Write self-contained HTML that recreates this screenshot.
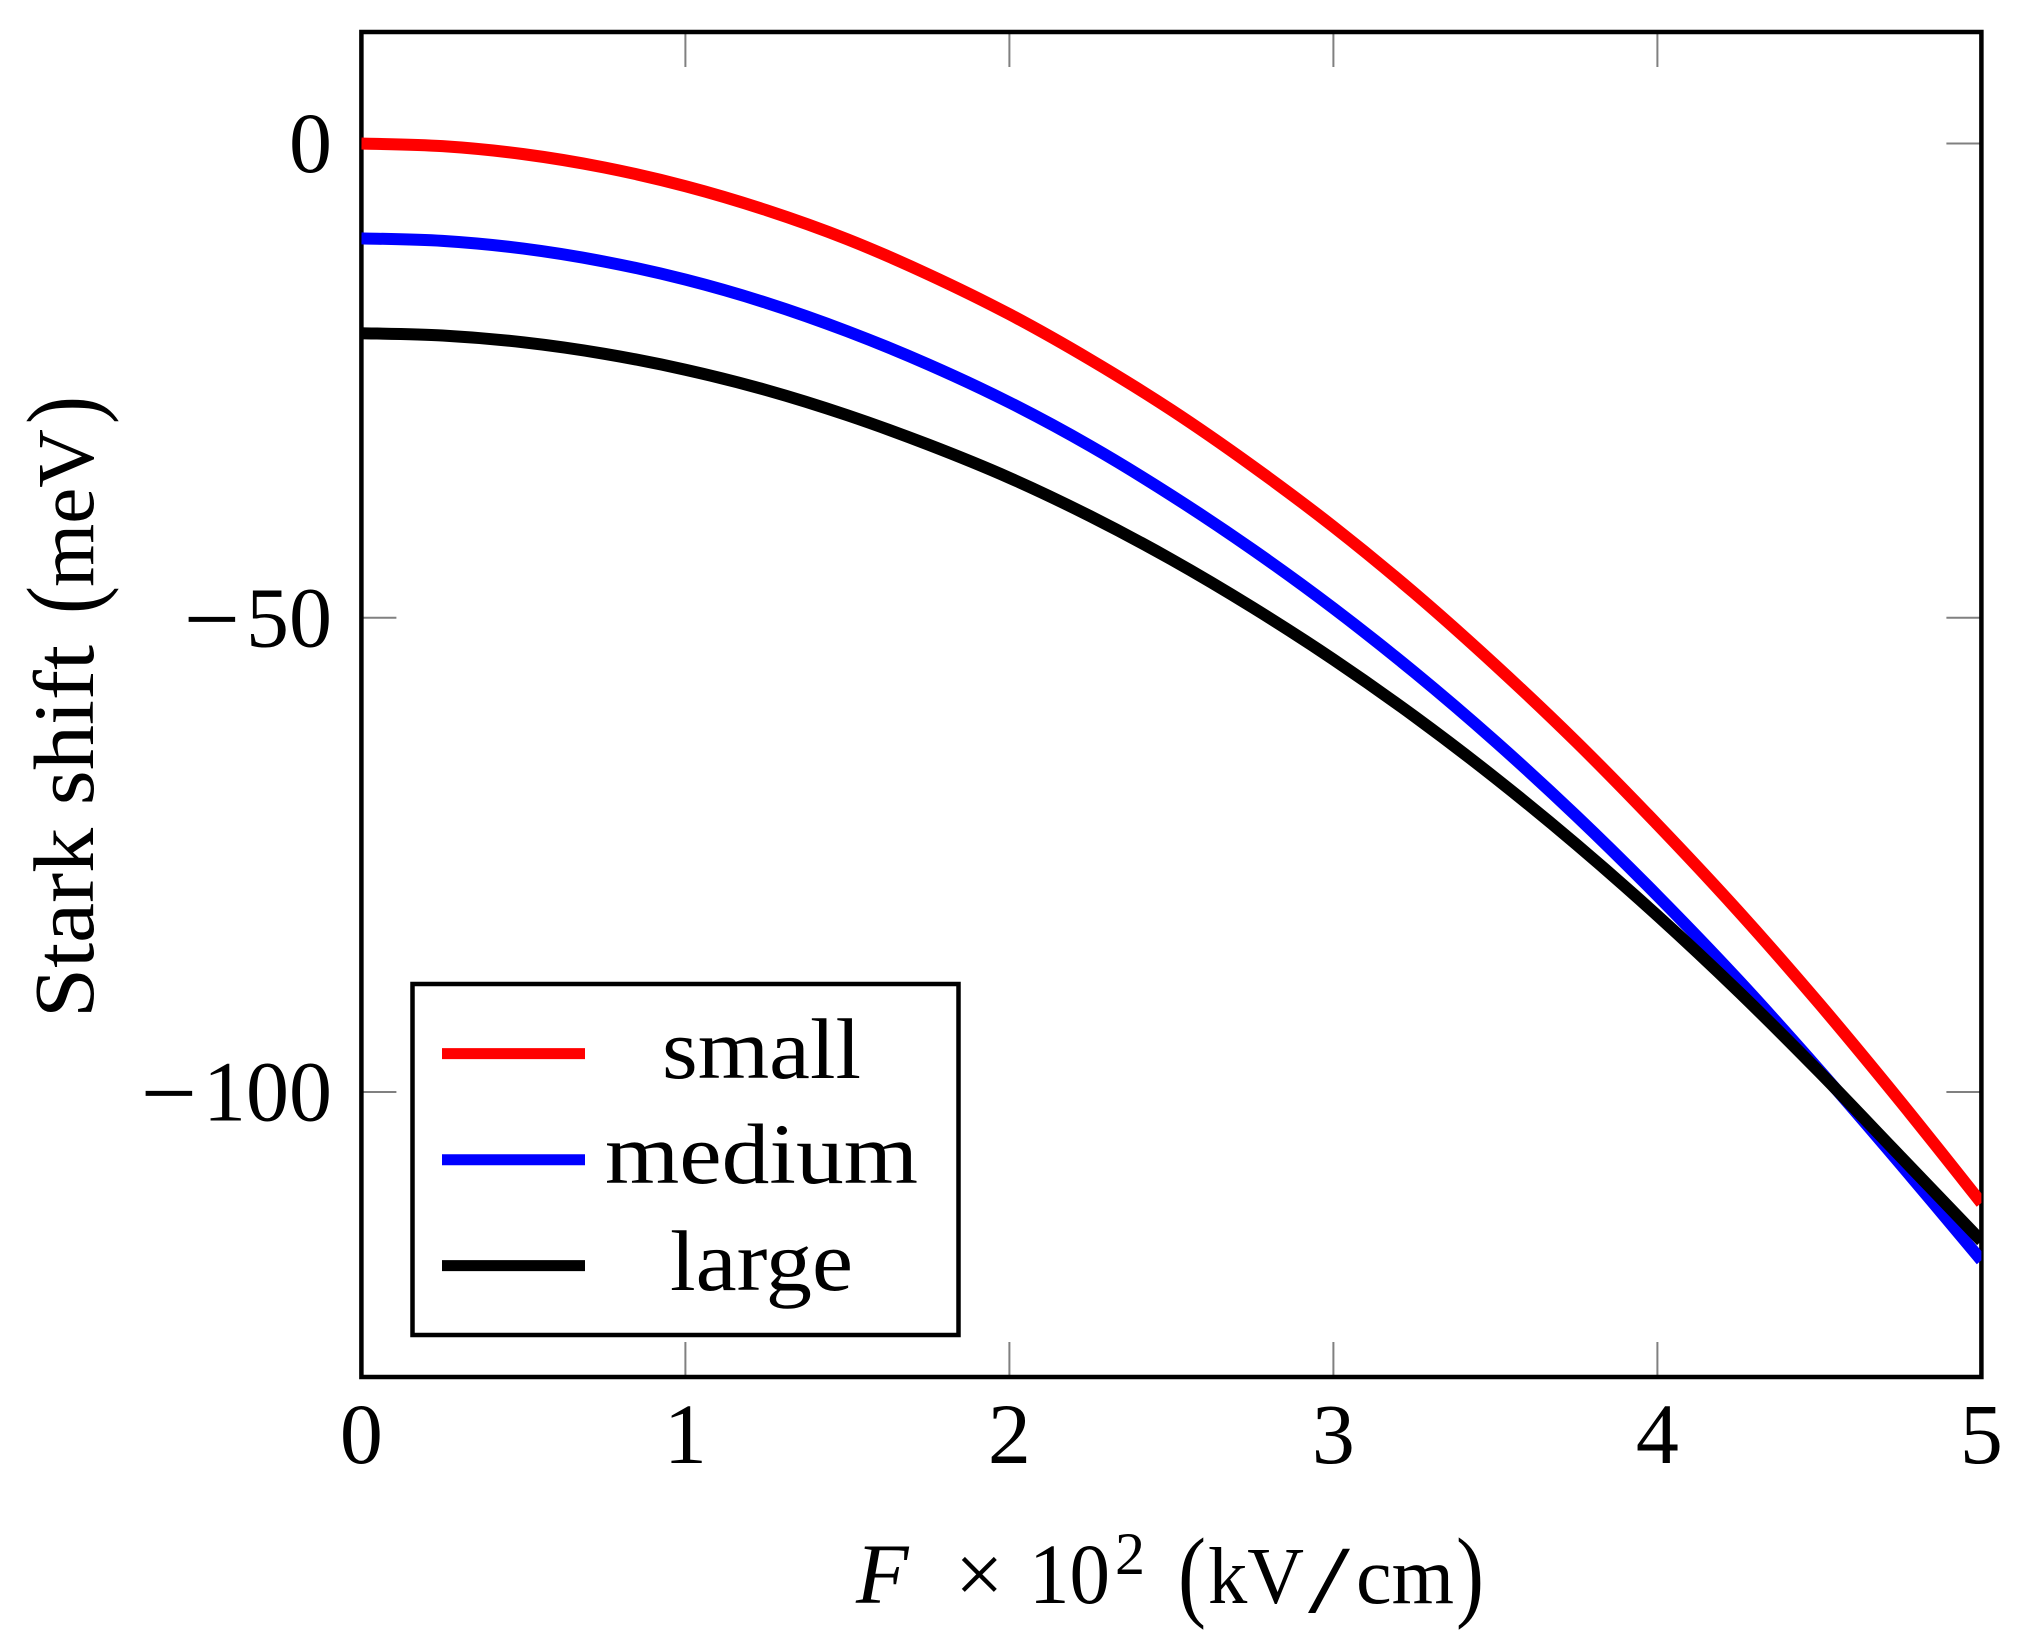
<!DOCTYPE html>
<html lang="en">
<head>
<meta charset="utf-8">
<title>Stark shift vs. field</title>
<style>
  html, body { margin: 0; padding: 0; background: #fff; }
  svg { display: block; }
  text { font-family: "Liberation Serif", "Noto Serif CJK SC", serif; fill: #000; }
</style>
</head>
<body>
<svg id="chart" xmlns="http://www.w3.org/2000/svg" width="2038" height="1649" viewBox="0 0 2038 1649">
  <defs>
    <clipPath id="plot-clip"><rect x="361.4" y="32" width="1620" height="1345"></rect></clipPath>
  </defs>
  <rect x="0" y="0" width="2038" height="1649" fill="#fff"></rect>
  <g id="ticks"></g>
  <rect x="361.4" y="32" width="1620" height="1345" fill="none" stroke="#000" stroke-width="4.5"></rect>
  <g id="tick-labels"></g>
  <g id="curves" clip-path="url(#plot-clip)"></g>

  <g>
    <rect x="412.5" y="984" width="546" height="351" fill="#fff" stroke="#000" stroke-width="4.5"></rect>
    <line x1="442" y1="1053.6" x2="585" y2="1053.6" stroke="#ff0000" stroke-width="11"></line>
    <line x1="442" y1="1159.8" x2="585" y2="1159.8" stroke="#0000ff" stroke-width="11"></line>
    <line x1="442" y1="1265.6" x2="585" y2="1265.6" stroke="#000000" stroke-width="11"></line>
    <text x="662" y="1078" font-size="86" textLength="199" lengthAdjust="spacingAndGlyphs">small</text>
    <text x="605" y="1183" font-size="86" textLength="313" lengthAdjust="spacingAndGlyphs">medium</text>
    <text x="670" y="1290" font-size="86" textLength="183" lengthAdjust="spacingAndGlyphs">large</text>
  </g>

  <g>
    <text x="856" y="1603" font-size="86" font-style="italic">F</text>
    <text x="955" y="1603" font-size="86">×</text>
    <text x="1029" y="1603" font-size="86" textLength="81" lengthAdjust="spacingAndGlyphs">10</text>
    <text x="1115" y="1574" font-size="60">2</text>
    <text x="1178" y="1608" font-size="102" textLength="28" lengthAdjust="spacingAndGlyphs">(</text>
    <text x="1208" y="1603" font-size="80" textLength="96" lengthAdjust="spacingAndGlyphs">kV</text>
    <text x="1308" y="1612" font-size="96" textLength="42" lengthAdjust="spacingAndGlyphs">/</text>
    <text x="1356" y="1603" font-size="80" textLength="98" lengthAdjust="spacingAndGlyphs">cm</text>
    <text x="1456" y="1608" font-size="102" textLength="28" lengthAdjust="spacingAndGlyphs">)</text>
  </g>

  <g>
    <text transform="translate(93,0) rotate(-90)" x="-1018" y="0" font-size="86" textLength="373" lengthAdjust="spacingAndGlyphs">Stark shift</text>
    <text transform="translate(97,0) rotate(-90)" x="-614" y="0" font-size="102" textLength="28" lengthAdjust="spacingAndGlyphs">(</text>
    <text transform="translate(93,0) rotate(-90)" x="-587" y="0" font-size="80" textLength="158" lengthAdjust="spacingAndGlyphs">meV</text>
    <text transform="translate(97,0) rotate(-90)" x="-424" y="0" font-size="102" textLength="28" lengthAdjust="spacingAndGlyphs">)</text>
  </g>
</svg>

<script>
// Chart data
const fieldValues = [0, 0.25, 0.5, 0.75, 1, 1.25, 1.5, 1.75, 2, 2.25, 2.5, 2.75, 3, 3.25, 3.5, 3.75, 4, 4.25, 4.5, 4.75, 5];
const smallValues = [0, -0.28, -1.12, -2.53, -4.5, -7.03, -10.1, -13.8, -18, -22.8, -28.1, -34, -40.4, -47.4, -55, -63.1, -71.8, -80.95, -90.7, -101, -111.7];
const mediumValues = [-10, -10.27, -11.08, -12.45, -14.35, -16.8, -19.8, -23.3, -27.3, -31.9, -37.1, -42.8, -49, -55.75, -63.05, -70.9, -79.3, -88.2, -97.7, -107.6, -117.75];
const largeValues = [-20, -20.24, -20.96, -22.17, -23.85, -26, -28.65, -31.75, -35.25, -39.3, -43.85, -48.9, -54.4, -60.4, -66.9, -73.9, -81.4, -89.4, -97.9, -106.8, -115.7];
const xTickLabels = ["0", "1", "2", "3", "4", "5"];
const xTickValues = [0, 1, 2, 3, 4, 5];
const yTickLabels = ["0", "−50", "−100"];
const yTickValues = [0, -50, -100];

const SVG_NS = 'http://www.w3.org/2000/svg';
const plot = { left: 361.4, right: 1981.4, top: 32, bottom: 1377 };
function xScale(v) { return 361.4 + 324 * v; }
function yScale(v) { return 143.5 - 9.485 * v; }

function smoothPath(xs, ys) {
  const pts = xs.map(function (x, i) { return [xScale(x), yScale(ys[i])]; });
  let d = 'M' + pts[0][0].toFixed(2) + ' ' + pts[0][1].toFixed(2);
  for (let i = 0; i < pts.length - 1; i++) {
    const p0 = pts[Math.max(i - 1, 0)];
    const p1 = pts[i];
    const p2 = pts[i + 1];
    const p3 = pts[Math.min(i + 2, pts.length - 1)];
    const c1x = p1[0] + (p2[0] - p0[0]) / 6;
    const c1y = p1[1] + (p2[1] - p0[1]) / 6;
    const c2x = p2[0] - (p3[0] - p1[0]) / 6;
    const c2y = p2[1] - (p3[1] - p1[1]) / 6;
    d += 'C' + c1x.toFixed(2) + ' ' + c1y.toFixed(2) + ' ' + c2x.toFixed(2) + ' ' + c2y.toFixed(2) + ' ' + p2[0].toFixed(2) + ' ' + p2[1].toFixed(2);
  }
  return d;
}

function addTick(parent, x1, y1, x2, y2) {
  const el = document.createElementNS(SVG_NS, 'line');
  el.setAttribute('x1', x1);
  el.setAttribute('y1', y1);
  el.setAttribute('x2', x2);
  el.setAttribute('y2', y2);
  el.setAttribute('stroke', '#808080');
  el.setAttribute('stroke-width', '2');
  
  
  parent.appendChild(el);
}

const tickGroup = document.getElementById('ticks');
const labelGroup = document.getElementById('tick-labels');
const TICK_LEN = 35;

xTickValues.forEach(function (v, i) {
  const x = xScale(v);
  if (v > 0 && v < 5) {
    addTick(tickGroup, x, plot.bottom, x, plot.bottom - TICK_LEN);
    addTick(tickGroup, x, plot.top, x, plot.top + TICK_LEN);
  }
  const t = document.createElementNS(SVG_NS, 'text');
  t.setAttribute('x', x);
  t.setAttribute('y', 1463);
  t.setAttribute('font-size', '86');
  t.setAttribute('text-anchor', 'middle');
  
  
  t.textContent = xTickLabels[i];
  labelGroup.appendChild(t);
});

yTickValues.forEach(function (v, i) {
  const y = yScale(v);
  addTick(tickGroup, plot.left, y, plot.left + TICK_LEN, y);
  addTick(tickGroup, plot.right, y, plot.right - TICK_LEN, y);
  const t = document.createElementNS(SVG_NS, 'text');
  t.setAttribute('x', 332);
  t.setAttribute('y', y + 28.5);
  t.setAttribute('font-size', '86');
  t.setAttribute('text-anchor', 'end');
  
  
  const label = yTickLabels[i];
  if (label.charAt(0) === '−') {
    const m = document.createElementNS(SVG_NS, 'tspan');
    m.setAttribute('font-size', '100');
    m.setAttribute('dy', '6');
    m.textContent = '−';
    t.appendChild(m);
    const d = document.createElementNS(SVG_NS, 'tspan');
    d.setAttribute('dx', '6');
    d.setAttribute('dy', '-6');
    d.textContent = label.slice(1);
    t.appendChild(d);
  } else {
    t.textContent = label;
  }
  labelGroup.appendChild(t);
});

const curveGroup = document.getElementById('curves');

const smallCurve = document.createElementNS(SVG_NS, 'path');
smallCurve.setAttribute('d', smoothPath(fieldValues, smallValues));
smallCurve.setAttribute('fill', 'none');
smallCurve.setAttribute('stroke', '#ff0000');
smallCurve.setAttribute('stroke-width', '12');


curveGroup.appendChild(smallCurve);

const mediumCurve = document.createElementNS(SVG_NS, 'path');
mediumCurve.setAttribute('d', smoothPath(fieldValues, mediumValues));
mediumCurve.setAttribute('fill', 'none');
mediumCurve.setAttribute('stroke', '#0000ff');
mediumCurve.setAttribute('stroke-width', '12');


curveGroup.appendChild(mediumCurve);

const largeCurve = document.createElementNS(SVG_NS, 'path');
largeCurve.setAttribute('d', smoothPath(fieldValues, largeValues));
largeCurve.setAttribute('fill', 'none');
largeCurve.setAttribute('stroke', '#000000');
largeCurve.setAttribute('stroke-width', '12');


curveGroup.appendChild(largeCurve);
</script>
</body>
</html>
